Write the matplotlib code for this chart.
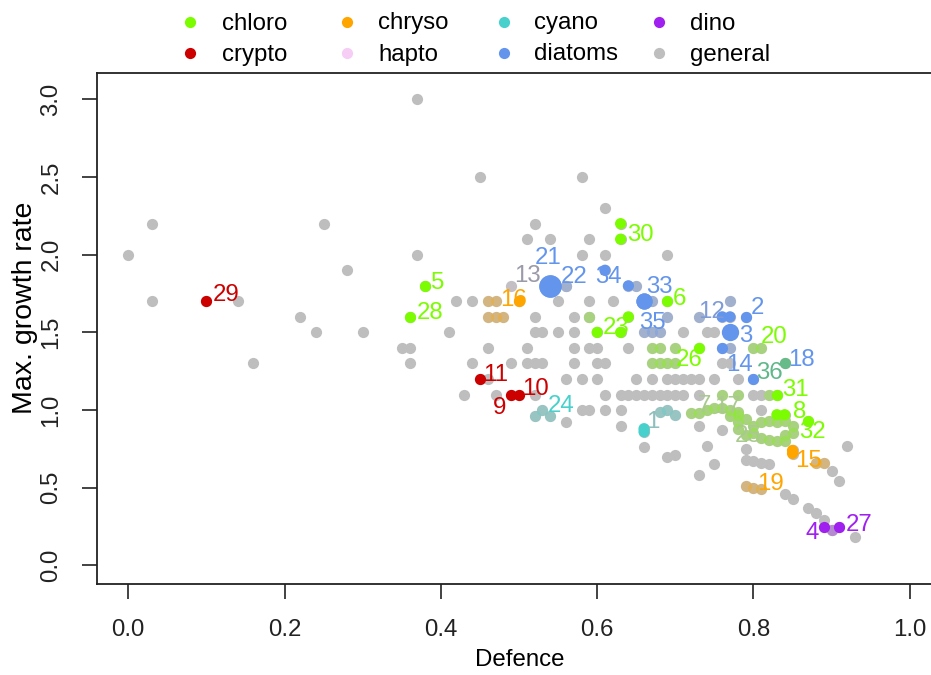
import numpy as np
import matplotlib
matplotlib.use("Agg")
import matplotlib.pyplot as plt

plt.rcParams['font.family'] = ['Liberation Sans', 'DejaVu Sans']

# ---- groups -------------------------------------------------------------
group_names = ["chloro", "crypto", "chryso", "hapto", "cyano", "diatoms", "dino", "general"]
group_colors = {
    "chloro": "#7CFC00", "crypto": "#CD0000", "chryso": "#FFA500", "hapto": "#F5CDF5",
    "cyano": "#48D1CC", "diatoms": "#6495ED", "dino": "#A020F0", "general": "#BEBEBE",
}

# ---- all measurements (general) ------------------------------------------
general_x = [0.00, 0.03, 0.03, 0.14, 0.16, 0.22, 0.24, 0.25, 0.28, 0.30,
             0.35, 0.36, 0.36, 0.37, 0.37, 0.41, 0.42, 0.44, 0.45, 0.58,
             0.61, 0.52, 0.51, 0.54, 0.59, 0.58, 0.61, 0.69,
             0.56,
             0.55, 0.59, 0.62,
             0.52, 0.57, 0.59,
             0.52, 0.53, 0.55, 0.57, 0.71, 0.74, 0.75,
             0.46, 0.51, 0.57, 0.59, 0.60, 0.64,
             0.44, 0.49, 0.51, 0.52, 0.53, 0.57, 0.60, 0.61, 0.76, 0.77,
             0.46, 0.56, 0.58, 0.60, 0.65, 0.67, 0.69, 0.70, 0.71, 0.72, 0.73, 0.75, 0.78,
             0.43, 0.47, 0.52, 0.61, 0.63, 0.64, 0.65, 0.66, 0.67, 0.68, 0.69, 0.70, 0.71, 0.73, 0.80, 0.81,
             0.58, 0.59, 0.61, 0.63, 0.81,
             0.56, 0.63, 0.73, 0.76, 0.66, 0.74, 0.69, 0.70, 0.75, 0.73,
             0.79, 0.79, 0.80, 0.81, 0.82, 0.84, 0.85, 0.87, 0.88, 0.89, 0.90, 0.93, 0.92, 0.90, 0.91]
general_y = [2.00, 2.20, 1.70, 1.70, 1.30, 1.60, 1.50, 2.20, 1.90, 1.50,
             1.40, 1.40, 1.30, 3.00, 2.00, 1.50, 1.70, 1.70, 2.50, 2.50,
             2.30, 2.20, 2.10, 2.10, 2.10, 2.00, 2.00, 2.00,
             1.80,
             1.70, 1.70, 1.70,
             1.60, 1.60, 1.60,
             1.50, 1.50, 1.50, 1.50, 1.50, 1.50, 1.50,
             1.40, 1.40, 1.40, 1.40, 1.40, 1.40,
             1.30, 1.30, 1.30, 1.30, 1.30, 1.30, 1.30, 1.30, 1.30, 1.30,
             1.20, 1.20, 1.20, 1.20, 1.20, 1.20, 1.20, 1.20, 1.20, 1.20, 1.20, 1.20, 1.20,
             1.10, 1.10, 1.10, 1.10, 1.10, 1.10, 1.10, 1.10, 1.10, 1.10, 1.10, 1.10, 1.10, 1.10, 1.10, 1.10,
             1.00, 1.00, 1.00, 1.00, 1.00,
             0.92, 0.90, 0.90, 0.87, 0.76, 0.77, 0.70, 0.71, 0.65, 0.58,
             0.75, 0.68, 0.67, 0.66, 0.65, 0.46, 0.43, 0.37, 0.34, 0.29, 0.23, 0.18, 0.77, 0.61, 0.54]

# ---- numbered species: group, highlighted points, further (faint) points ----
species_group = {
    1: "cyano", 2: "diatoms", 3: "diatoms", 4: "dino", 5: "chloro", 6: "chloro",
    7: "chloro", 8: "chloro", 9: "crypto", 10: "crypto", 11: "crypto", 12: "diatoms",
    13: "hapto", 14: "diatoms", 15: "chryso", 16: "chryso", 17: "chloro", 18: "diatoms",
    19: "chryso", 20: "chloro", 21: "diatoms", 22: "diatoms", 23: "chloro", 24: "cyano",
    25: "chloro", 26: "chloro", 27: "dino", 28: "chloro", 29: "crypto", 30: "chloro",
    31: "chloro", 32: "chloro", 33: "diatoms", 34: "diatoms", 35: "diatoms", 36: "diatoms",
}
species_solid = {
    1: [(0.66, 0.88), (0.66, 0.86)],
    2: [(0.79, 1.60)],
    3: [(0.77, 1.50)],
    4: [(0.89, 0.245)],
    5: [(0.38, 1.80)],
    6: [(0.69, 1.70)],
    8: [(0.84, 0.97), (0.83, 0.97)],
    9: [(0.49, 1.10)],
    10: [(0.50, 1.10)],
    11: [(0.45, 1.20)],
    12: [(0.76, 1.60), (0.77, 1.60)],
    14: [(0.76, 1.40)],
    15: [(0.85, 0.74), (0.85, 0.72)],
    16: [(0.50, 1.70)],
    18: [(0.84, 1.30)],
    21: [(0.54, 1.80)],
    22: [(0.54, 1.80)],
    23: [(0.60, 1.50), (0.63, 1.50), (0.64, 1.60)],
    26: [(0.73, 1.40)],
    27: [(0.91, 0.245)],
    28: [(0.36, 1.60)],
    29: [(0.10, 1.70)],
    30: [(0.63, 2.10), (0.63, 2.20)],
    31: [(0.83, 1.10)],
    32: [(0.87, 0.93)],
    33: [(0.66, 1.70)],
    34: [(0.64, 1.80), (0.61, 1.90)],
    35: [(0.66, 1.70)],
    36: [(0.80, 1.20)],
}
species_faint = {
    1: [(0.68, 0.99), (0.69, 1.00), (0.70, 0.97)],
    7: [(0.74, 1.00), (0.72, 0.98), (0.73, 0.98), (0.75, 1.01)],
    12: [(0.73, 1.60), (0.77, 1.70)],
    13: [(0.49, 1.80)],
    14: [(0.77, 1.40)],
    15: [(0.88, 0.66), (0.89, 0.66)],
    16: [(0.46, 1.70), (0.47, 1.70), (0.46, 1.60), (0.47, 1.60), (0.48, 1.60)],
    17: [(0.76, 1.01), (0.77, 1.00), (0.78, 0.99), (0.78, 0.97), (0.76, 1.10), (0.78, 1.10)],
    19: [(0.81, 0.49), (0.80, 0.50), (0.79, 0.51)],
    20: [(0.81, 1.40), (0.80, 1.40)],
    22: [(0.56, 1.80)],
    23: [(0.59, 1.60)],
    24: [(0.54, 0.96), (0.52, 0.96), (0.53, 1.00)],
    25: [(0.78, 0.88), (0.78, 0.92), (0.79, 0.84), (0.80, 0.90), (0.80, 0.85), (0.81, 0.92),
         (0.81, 0.82), (0.82, 0.93), (0.82, 0.81), (0.83, 0.92), (0.83, 0.80), (0.84, 0.93),
         (0.84, 0.84), (0.84, 0.80), (0.85, 0.90), (0.85, 0.85), (0.79, 0.94), (0.77, 0.96)],
    26: [(0.67, 1.40), (0.68, 1.40), (0.70, 1.40), (0.67, 1.30), (0.68, 1.30), (0.69, 1.30), (0.70, 1.30)],
    27: [(0.90, 0.23)],
    31: [(0.82, 1.10)],
    33: [(0.67, 1.70)],
    34: [(0.65, 1.80)],
    35: [(0.66, 1.50), (0.67, 1.50), (0.68, 1.50), (0.69, 1.60)],
}

# ---- label placement (pixel offset of label centre from its point) -------
label_offset = {
    1: (9, -9), 2: (12, -11), 3: (16, 1), 4: (-12, 3), 5: (12, -5), 6: (12, -5),
    7: (-2, -7), 8: (15, -5), 9: (-12, 11), 10: (16, -8), 11: (16, -7), 12: (-11, -7),
    13: (16, -12), 14: (17, 14), 15: (16, 8), 16: (-6, -4), 17: (5, -4), 18: (17, -6),
    19: (9, -8), 20: (13, -14), 21: (-2, -30), 22: (24, -11), 23: (19, -7), 24: (11, -13),
    25: (10, 5), 26: (-10, 9), 27: (20, -5), 28: (20, -6), 29: (20, -9), 30: (20, -7),
    31: (19, -7), 32: (4, 8), 33: (15, -17), 34: (-20, -11), 35: (8, 19), 36: (16, -9),
}
label_color = {1: "#8FBFBC", 7: "#A9C98F", 17: "#A9C98F", 25: "#A9C98F", 12: "#7F9BD6",
               13: "#9A9AA8", 18: "#6495ED", 36: "#5FB88A", 20: "#7CFC00"}
point_color = {18: "#66BB88"}
marker_scale = {21: 2.0, 22: 2.0, 33: 1.45, 35: 1.45, 3: 1.55}
faint_alpha = {13: 0.12}

PX = 72.0 / 100.0          # pixels -> points at 100 dpi
DOT = (11.2 * PX) ** 2     # scatter size for a ~11 px dot
FS = 17.3

fig = plt.figure(figsize=(9.31, 6.75), dpi=100)
ax = fig.add_axes([97 / 931, 91 / 675, 844 / 931, 511 / 675])
ax.set_xlim(-0.04, 1.04)
ax.set_ylim(-0.12, 3.17)

# every measurement in grey first
all_x = list(general_x)
all_y = list(general_y)
for sid in species_group:
    for (x, y) in species_solid.get(sid, []) + species_faint.get(sid, []):
        all_x.append(x)
        all_y.append(y)
ax.scatter(all_x, all_y, s=DOT, color=group_colors["general"], linewidths=0, zorder=2)

# faint species measurements
for sid, pts in species_faint.items():
    col = group_colors[species_group[sid]]
    ax.scatter([p[0] for p in pts], [p[1] for p in pts], s=DOT, color=col,
               alpha=faint_alpha.get(sid, 0.32), linewidths=0, zorder=3)

# highlighted species points
for sid, pts in species_solid.items():
    col = point_color.get(sid, group_colors[species_group[sid]])
    sizes = [DOT * marker_scale.get(sid, 1.0) ** 2 if i == 0 else DOT for i in range(len(pts))]
    ax.scatter([p[0] for p in pts], [p[1] for p in pts], s=sizes, color=col,
               linewidths=0, zorder=4)

# species numbers
for sid in species_group:
    pts = species_solid.get(sid) or species_faint.get(sid)
    x, y = pts[0]
    dx, dy = label_offset[sid]
    col = label_color.get(sid, group_colors[species_group[sid]])
    ax.annotate(str(sid), xy=(x, y), xytext=(dx * PX, -(dy + 8.6) * PX),
                textcoords="offset points", ha="center", va="baseline",
                fontsize=FS, color=col, zorder=5)

# axes styling
for side in ["left", "bottom", "top", "right"]:
    ax.spines[side].set_linewidth(1.3)
    ax.spines[side].set_color("#222222")
xt = [0.0, 0.2, 0.4, 0.6, 0.8, 1.0]
yt = [0.0, 0.5, 1.0, 1.5, 2.0, 2.5, 3.0]
ax.set_xticks(xt)
ax.set_xticklabels([f"{v:.1f}" for v in xt])
ax.set_yticks(yt)
ax.set_yticklabels([f"{v:.1f}" for v in yt], rotation=90, va="center")
ax.tick_params(axis="both", direction="out", length=11, width=1.2, labelsize=FS, colors="#222222")
ax.tick_params(axis="x", pad=14)
ax.tick_params(axis="y", pad=14)

fig.text(520 / 931, 1 - 660 / 675, "Defence", ha="center", va="center", fontsize=FS)
fig.text(25 / 931, 1 - 308 / 675, "Max. growth rate", ha="center", va="center",
         rotation=90, fontsize=20.5)

# legend above the plot, two rows of four
leg = fig.add_axes([0, 0, 1, 1], facecolor="none")
leg.set_xlim(0, 931)
leg.set_ylim(675, 0)
leg.axis("off")
col_dot = [190, 347, 504, 659]
col_txt = [222, 378, 534, 690]
row_dot = [22, 53]
row_base = [29.5, 60.5]
legend_order = [["chloro", "chryso", "cyano", "dino"], ["crypto", "hapto", "diatoms", "general"]]
for r, names in enumerate(legend_order):
    for c, name in enumerate(names):
        leg.scatter([col_dot[c]], [row_dot[r]], s=DOT, color=group_colors[name], linewidths=0)
        leg.text(col_txt[c], row_base[r], name, ha="left", va="baseline", fontsize=FS)

fig.savefig("out.png", dpi=100)
